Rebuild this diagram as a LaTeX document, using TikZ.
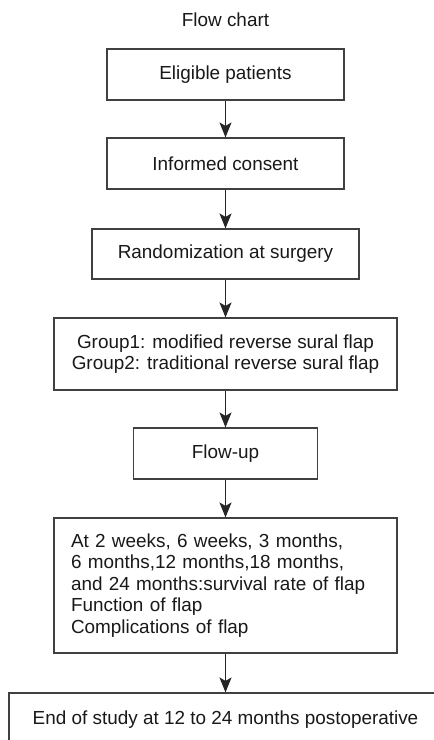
\documentclass[tikz,border=0pt]{standalone}
\usepackage{fontspec}
\setmainfont{Liberation Sans}
\usetikzlibrary{arrows.meta}
\begin{document}
\begin{tikzpicture}[x=1pt,y=-1pt,
  box/.style={draw=black!75, line width=1.1pt, rectangle, inner sep=0pt, align=center,
    text=black!90, font=\fontsize{18.9pt}{21.6pt}\selectfont},
  arr/.style={draw=black!85, line width=1pt, -{Stealth[length=15pt,width=12pt,inset=3.5pt]}}]
\clip (0,0) rectangle (434,740);
\fill[white] (0,0) rectangle (434,740);
\node[font=\fontsize{18.9pt}{21.6pt}\selectfont, text=black!90] (title) at (225.5,20) {Flow chart};
\node[box, minimum width=237pt, minimum height=51pt] (b1) at (225.5,74.5) {Eligible patients};
\node[box, minimum width=237pt, minimum height=51pt] (b2) at (225.5,163.5) {Informed consent};
\node[box, minimum width=267pt, minimum height=50pt] (b3) at (225.5,254) {Randomization at surgery};
\node[box, minimum width=343pt, minimum height=72pt] (b4) at (225.5,354) {Group1: modified reverse sural flap\\Group2: traditional reverse sural flap};
\node[box, minimum width=184pt, minimum height=51pt] (b5) at (225.5,453.5) {Flow-up};
\node[box, minimum width=343pt, minimum height=135pt, inner xsep=17pt, text width=309pt, align=left] (b6) at (225.5,585.5) {At 2 weeks, 6 weeks, 3 months,\\6 months,12 months,18 months,\\and 24 months:survival rate of flap\\Function of flap\\Complications of flap};
\node[box, minimum width=433pt, minimum height=54pt] (b7) at (225.5,720) {End of study at 12 to 24 months postoperative};
\draw[arr] (b1.south) -- (b2.north);
\draw[arr] (b2.south) -- (b3.north);
\draw[arr] (b3.south) -- (b4.north);
\draw[arr] (b4.south) -- (b5.north);
\draw[arr] (b5.south) -- (b6.north);
\draw[arr] (b6.south) -- (b7.north);
\end{tikzpicture}
\end{document}
